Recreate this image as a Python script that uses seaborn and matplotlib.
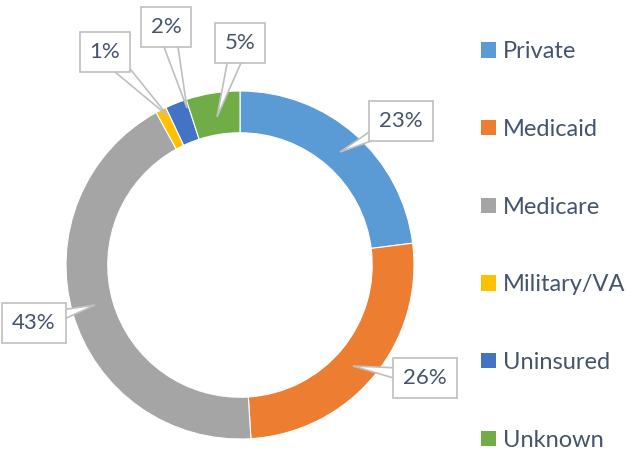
import matplotlib
matplotlib.use("Agg")
import matplotlib.pyplot as plt
import seaborn as sns
import numpy as np
from matplotlib.patches import Patch, Polygon

categories = ["Private", "Medicaid", "Medicare", "Military/VA", "Uninsured", "Unknown"]
values = [23, 26, 43, 1, 2, 5]
labels = ["23%", "26%", "43%", "1%", "2%", "5%"]
colors = ["#5B9BD5", "#ED7D31", "#A5A5A5", "#FFC000", "#4472C4", "#70AD47"]

sns.set_theme(style="white")
plt.rcParams['font.family'] = ['Lato', 'DejaVu Sans']
text_color = "#44546A"

W, H = 626, 451
fig = plt.figure(figsize=(W / 100, H / 100), dpi=100)
cx, cy, R = 240, 265, 174
ax = fig.add_axes([(cx - R) / W, (H - cy - R) / H, 2 * R / W, 2 * R / H])

wedges, _ = ax.pie(values, colors=colors, startangle=90, counterclock=False, radius=1,
                   wedgeprops=dict(width=0.24, edgecolor="white", linewidth=0.8))
ax.set_xlim(-1, 1)
ax.set_ylim(-1, 1)
ax.set_aspect("equal")
ax.axis("off")

def px(x, y):
    return ((x - cx) / R, (cy - y) / R)

# callout positions (label center, pointer tip) in pixel coords
label_pos = [(401, 121), (425, 378), (34, 323), (105, 52), (166, 27), (240, 43)]
tip_pos = [(340, 152), (353, 366), (95, 305), (168, 116), (187, 108), (217, 117)]

edge = "#BFBFBF"
half_w = 9.0  # pointer half-width (px) at label center
for lab, lp, tp in zip(labels, label_pos, tip_pos):
    d = np.array(lp, float) - np.array(tp, float)
    n = np.array([-d[1], d[0]]) / np.hypot(*d)
    b1 = np.array(lp) + n * half_w
    b2 = np.array(lp) - n * half_w
    poly = Polygon([px(*tp), px(*b1), px(*b2)], closed=True, fc="white", ec=edge,
                   lw=1.2, zorder=5, clip_on=False, joinstyle="miter")
    ax.add_patch(poly)
    ax.text(*px(*lp), lab, ha="center", va="center", fontsize=16, color=text_color,
            zorder=6, clip_on=False,
            bbox=dict(boxstyle="square,pad=0.45", fc="white", ec=edge, lw=1.2))

handles = [Patch(facecolor=c, edgecolor="none") for c in colors]
leg = fig.legend(handles, categories, loc="upper left", bbox_to_anchor=(472 / W, 1 - 32 / H),
                 frameon=False, fontsize=17, labelspacing=2.4, handlelength=0.62,
                 handleheight=0.62, handletextpad=0.3, borderaxespad=0)
for t in leg.get_texts():
    t.set_color(text_color)

fig.savefig("out.png", dpi=100)
